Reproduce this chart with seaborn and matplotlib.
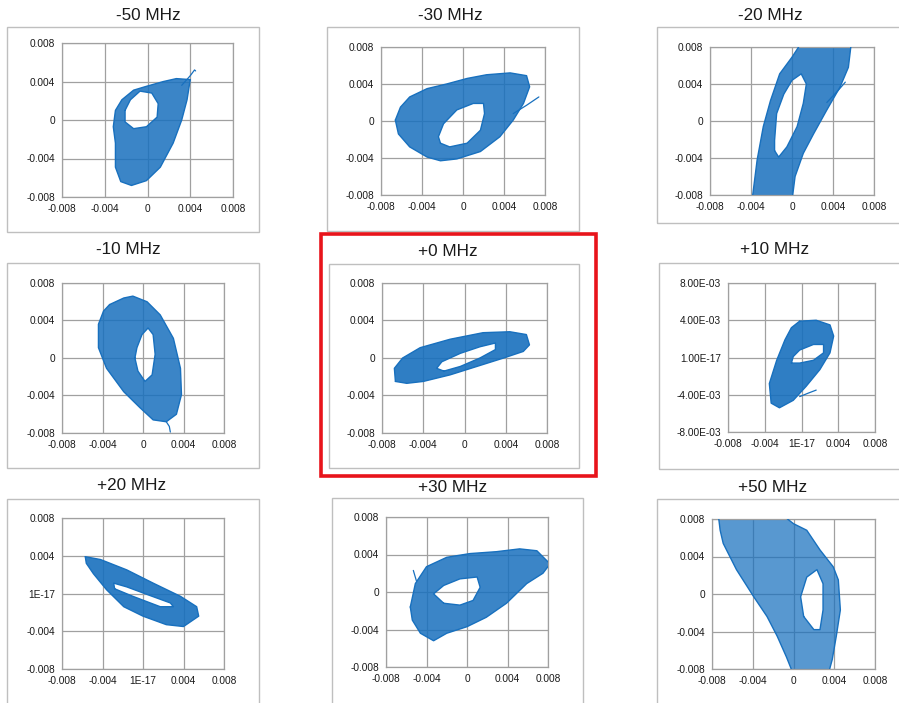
import numpy as np
import matplotlib
matplotlib.use("Agg")
import matplotlib.pyplot as plt
from matplotlib.patches import Rectangle, PathPatch
from matplotlib.path import Path
import seaborn as sns
import pandas as pd

sns.set_style("white")
plt.rcParams['font.family'] = ['Liberation Sans', 'DejaVu Sans']

# ---------------- data (values in units of 1e-3) ----------------
titles = ["-50 MHz", "-30 MHz", "-20 MHz", "-10 MHz", "+0 MHz",
          "+10 MHz", "+20 MHz", "+30 MHz", "+50 MHz"]

tick_values = [-0.008, -0.004, 0, 0.004, 0.008]
std_labels = ["-0.008", "-0.004", "0", "0.004", "0.008"]
e17_x_labels = ["-0.008", "-0.004", "1E-17", "0.004", "0.008"]
p10_y_labels = ["-8.00E-03", "-4.00E-03", "1.00E-17", "4.00E-03", "8.00E-03"]
p20_y_labels = ["-0.008", "-0.004", "1E-17", "0.004", "0.008"]

# -50 MHz
m50_outer = [(4.0, 4.2), (3.7, 2.1), (3.2, 0.0), (2.4, -2.4), (1.2, -4.9), (-0.1, -6.3),
             (-1.5, -6.8), (-2.5, -6.4), (-3.0, -4.9), (-3.0, -2.4), (-3.2, -0.7),
             (-3.0, 1.0), (-2.4, 2.1), (-1.3, 3.1), (-0.1, 3.5), (1.5, 4.0), (2.7, 4.3)]
m50_hole = [(-1.6, 2.1), (-0.7, 3.0), (0.4, 2.8), (1.0, 1.7), (0.9, 0.3), (-0.1, -0.7),
            (-1.3, -0.9), (-2.1, -0.2), (-2.1, 1.0)]
m50_tail = [(3.2, 3.6), (4.0, 4.6), (4.4, 5.2), (4.5, 5.1)]

# -30 MHz
m30_outer = [(-6.6, 0.1), (-6.1, 1.5), (-5.2, 2.6), (-3.5, 3.5), (-1.6, 4.0), (0.4, 4.6),
             (2.3, 5.0), (4.6, 5.2), (6.2, 4.9), (6.5, 3.7), (5.9, 1.9), (4.9, 0.1),
             (3.6, -1.7), (1.7, -3.3), (-0.6, -4.1), (-2.2, -4.3), (-3.5, -3.9),
             (-5.2, -2.8), (-6.3, -1.4)]
m30_hole = [(-2.4, -1.7), (-1.9, -0.3), (-0.6, 1.2), (1.0, 1.9), (2.0, 1.9), (2.1, 0.8),
            (1.7, -1.0), (0.4, -2.4), (-1.3, -2.8), (-2.2, -2.4)]
m30_tail = [(4.9, 0.8), (6.2, 1.7), (7.4, 2.6)]

# -20 MHz
m20_outer = [(-3.9, -8.6), (-3.4, -4.2), (-2.8, -0.6), (-2.1, 2.2), (-1.2, 5.1), (0.0, 6.9),
             (1.0, 8.6), (5.8, 8.6), (5.5, 5.8), (4.7, 3.7), (3.4, 1.2), (2.1, -1.4),
             (1.1, -3.5), (0.3, -6.0), (0.0, -8.6)]
m20_hole = [(-1.7, -2.1), (-1.5, 0.8), (-0.8, 2.9), (0.0, 4.4), (0.9, 5.1), (1.4, 4.0),
            (1.1, 1.9), (0.5, -0.6), (-0.5, -2.8), (-1.3, -3.9), (-1.7, -3.2)]
m20_tail = [(3.4, 2.0), (4.5, 3.3), (5.2, 4.2)]

# -10 MHz
m10_outer = [(-3.3, 5.7), (-1.9, 6.4), (-1.0, 6.6), (0.4, 6.0), (1.7, 4.6), (3.0, 2.1),
             (3.7, -1.1), (3.8, -3.9), (3.3, -6.0), (2.3, -6.8), (1.0, -6.6), (-0.3, -5.3),
             (-1.9, -3.6), (-3.6, -1.1), (-4.4, 1.1), (-4.4, 3.6), (-3.9, 5.0)]
m10_hole = [(-0.6, 1.1), (-0.1, 2.5), (0.5, 3.2), (1.0, 2.5), (1.2, 0.4), (0.9, -1.8),
            (0.2, -2.5), (-0.5, -1.4), (-0.8, 0.0)]
m10_tail = [(2.3, -6.8), (2.6, -7.3), (2.7, -7.9)]

# +0 MHz
p0_outer = [(-6.7, -2.5), (-6.8, -1.1), (-6.0, 0.0), (-4.3, 1.1), (-1.4, 2.0), (1.8, 2.7),
            (4.4, 2.8), (6.0, 2.5), (6.3, 1.4), (5.7, 0.7), (3.8, 0.0), (1.2, -0.9),
            (-1.4, -1.8), (-4.0, -2.5), (-5.6, -2.7)]
p0_hole = [(-2.7, -1.1), (-2.2, -0.4), (-0.4, 0.5), (1.5, 1.2), (3.0, 1.6), (3.0, 0.9),
           (1.5, 0.0), (-0.4, -0.9), (-2.0, -1.4)]
p0_tail = []

# +10 MHz
p10_outer = [(-0.2, 3.9), (1.6, 4.0), (3.1, 3.5), (3.5, 2.3), (3.1, 0.5), (2.0, -1.3),
             (0.5, -3.1), (-0.9, -4.6), (-2.4, -5.4), (-3.3, -4.9), (-3.5, -2.8),
             (-2.7, -0.3), (-1.8, 1.9), (-1.1, 3.2)]
p10_hole = [(-0.9, 0.1), (-0.2, 0.8), (1.3, 1.4), (2.4, 1.4), (2.4, 0.5), (1.3, -0.3),
            (-0.2, -0.6), (-1.1, -0.6)]
p10_tail = [(-0.2, -4.2), (0.8, -3.8), (1.6, -3.5)]

# +20 MHz
p20_outer = [(-5.7, 3.9), (-4.2, 3.6), (-1.6, 2.5), (1.0, 1.1), (3.7, -0.3), (5.3, -1.4),
             (5.5, -2.4), (4.0, -3.5), (2.3, -3.3), (0.0, -2.4), (-1.9, -1.4), (-3.6, 0.4),
             (-4.9, 2.1), (-5.6, 3.2)]
p20_hole = [(-2.9, 1.1), (-1.6, 0.7), (0.4, -0.1), (2.7, -1.0), (3.0, -1.4), (1.7, -1.4),
            (-1.0, -0.3), (-2.8, 0.5)]
p20_tail = []

# +30 MHz
p30_outer = [(-5.6, -1.6), (-5.1, 0.9), (-4.0, 2.7), (-2.0, 3.7), (0.3, 4.1), (2.9, 4.3),
             (5.2, 4.6), (6.9, 4.4), (8.2, 3.0), (7.5, 2.0), (5.9, 0.9), (3.9, -1.2),
             (1.9, -2.7), (0.0, -3.7), (-2.0, -4.4), (-3.3, -5.2), (-4.6, -4.4), (-5.4, -3.0)]
p30_hole = [(-3.3, -0.2), (-2.3, 0.7), (-0.7, 1.4), (1.0, 1.6), (1.3, 0.5), (0.6, -0.9),
            (-0.7, -1.4), (-2.3, -1.2)]
p30_tail = [(-5.0, 1.2), (-5.3, 2.3)]

# +50 MHz
p50_outer = [(-7.4, 8.6), (-1.3, 8.6), (0.0, 7.5), (1.3, 6.8), (2.6, 4.7), (3.9, 2.9),
             (4.4, 1.5), (4.6, -1.7), (4.2, -4.5), (3.8, -7.0), (3.4, -8.6), (0.0, -8.6),
             (-0.7, -6.7), (-1.6, -4.5), (-2.6, -2.4), (-3.9, -0.3), (-5.6, 2.6),
             (-6.9, 5.4), (-7.2, 6.8)]
p50_hole = [(0.7, -0.3), (1.3, 1.8), (2.3, 2.6), (2.9, 1.1), (2.9, -1.7), (2.6, -3.8),
            (2.0, -3.8), (1.0, -2.4)]
p50_tail = []

panel_outer = [m50_outer, m30_outer, m20_outer, m10_outer, p0_outer,
               p10_outer, p20_outer, p30_outer, p50_outer]
panel_hole = [m50_hole, m30_hole, m20_hole, m10_hole, p0_hole,
              p10_hole, p20_hole, p30_hole, p50_hole]
panel_tail = [m50_tail, m30_tail, m20_tail, m10_tail, p0_tail,
              p10_tail, p20_tail, p30_tail, p50_tail]
panel_density = [0.85, 0.85, 0.85, 0.85, 0.9, 0.9, 0.9, 0.85, 0.72]
SCALE = 1e-3

# ---------------- layout (pixels) ----------------
W, H = 899, 703
# plot areas: left, right, top, bottom
plot_px = [(62, 233, 43, 197), (381, 545, 47, 195), (710, 874, 47, 195),
           (62, 224, 283, 433), (382, 547, 283, 433), (728, 875, 283, 432),
           (62, 224, 518, 669), (386, 548, 517, 667), (712, 875, 519, 669)]
box_px = [(7, 259, 27, 232), (327, 579, 27, 231), (657, 905, 27, 223),
          (7, 259, 263, 468), (329, 579, 264, 468), (659, 905, 263, 469),
          (7, 259, 499, 710), (332, 583, 498, 710), (657, 905, 499, 710)]
title_px = [(148, 15), (450, 15), (770, 15), (128, 250), (448, 251), (775, 250),
            (132, 486), (453, 488), (773, 487)]

BLUE = "#1870BE"
GRID = "#A0A0A0"

fig = plt.figure(figsize=(W / 100, H / 100), dpi=100)
fig.patch.set_facecolor("white")


def fx(px):
    return px / W


def fy(py):
    return 1 - py / H


def oriented_area(pts):
    a = np.asarray(pts)
    x, y = a[:, 0], a[:, 1]
    return 0.5 * np.sum(x * np.roll(y, -1) - np.roll(x, -1) * y)


for i in range(9):
    bl, br, bt, bb = box_px[i]
    fig.patches.append(Rectangle((fx(bl), fy(bb)), fx(br) - fx(bl), fy(bt) - fy(bb),
                                 transform=fig.transFigure, fill=False,
                                 edgecolor="#BFBFBF", linewidth=1.0, zorder=0))
    l, r, t, b = plot_px[i]
    ax = fig.add_axes([fx(l), fy(b), fx(r) - fx(l), fy(t) - fy(b)])
    ax.set_facecolor("white")
    ax.set_xlim(-0.008, 0.008)
    ax.set_ylim(-0.008, 0.008)

    outer = [(x * SCALE, y * SCALE) for x, y in panel_outer[i]]
    hole = [(x * SCALE, y * SCALE) for x, y in panel_hole[i]]
    if np.sign(oriented_area(outer)) == np.sign(oriented_area(hole)):
        hole = hole[::-1]
    verts = outer + [outer[0]] + hole + [hole[0]]
    codes = ([Path.MOVETO] + [Path.LINETO] * (len(outer) - 1) + [Path.CLOSEPOLY] +
             [Path.MOVETO] + [Path.LINETO] * (len(hole) - 1) + [Path.CLOSEPOLY])
    ax.add_patch(PathPatch(Path(verts, codes), facecolor=BLUE, edgecolor="none",
                           alpha=panel_density[i], zorder=2))

    for ring in (outer, hole):
        df = pd.DataFrame(ring + [ring[0]], columns=["x", "y"])
        sns.lineplot(data=df, x="x", y="y", sort=False, estimator=None, ax=ax,
                     color=BLUE, linewidth=1.0, zorder=3)
    if panel_tail[i]:
        df = pd.DataFrame([(x * SCALE, y * SCALE) for x, y in panel_tail[i]],
                          columns=["x", "y"])
        sns.lineplot(data=df, x="x", y="y", sort=False, estimator=None, ax=ax,
                     color=BLUE, linewidth=0.9, zorder=3)

    ax.set_xlabel("")
    ax.set_ylabel("")
    ax.set_xticks(tick_values)
    ax.set_yticks(tick_values)
    xl = std_labels
    yl = std_labels
    if titles[i] == "+10 MHz":
        xl, yl = e17_x_labels, p10_y_labels
    elif titles[i] == "+20 MHz":
        xl, yl = e17_x_labels, p20_y_labels
    ax.set_xticklabels(xl)
    ax.set_yticklabels(yl)
    ax.grid(True, color=GRID, linewidth=0.9)
    ax.set_axisbelow(True)
    for s in ax.spines.values():
        s.set_color(GRID)
        s.set_linewidth(0.9)
    ax.tick_params(direction="out", length=3, width=0.8, color=GRID,
                   labelsize=7.3, labelcolor="#1a1a1a", pad=2)

    tx, ty = title_px[i]
    fig.text(fx(tx), fy(ty), titles[i], ha="center", va="center",
             fontsize=12.3, color="#1a1a1a")

# red highlight box around the +0 MHz chart
fig.patches.append(Rectangle((fx(321), fy(476)), fx(596) - fx(321), fy(234) - fy(476),
                             transform=fig.transFigure, fill=False,
                             edgecolor="#E8141B", linewidth=2.6, zorder=5))

fig.savefig("out.png", dpi=100, facecolor="white")
